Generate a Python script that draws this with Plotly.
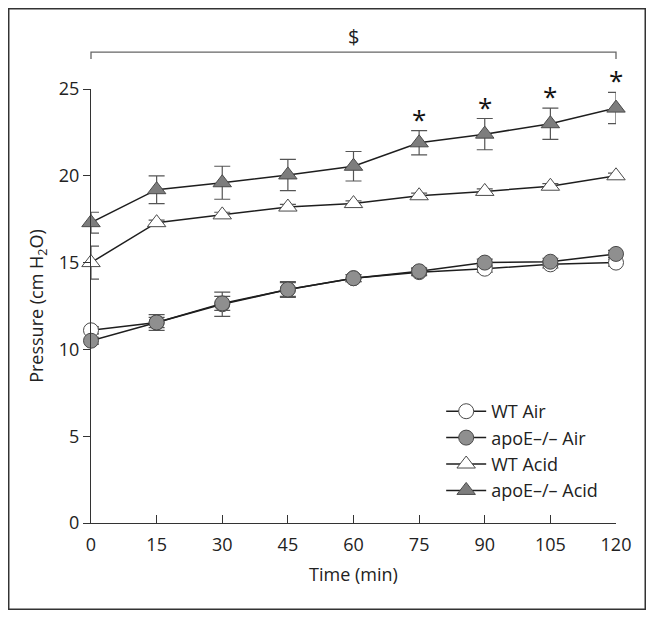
import plotly.graph_objects as go

time_min = [0, 15, 30, 45, 60, 75, 90, 105, 120]

wt_air = [11.1, 11.55, 12.6, 13.45, 14.1, 14.45, 14.65, 14.9, 15.0]
wt_air_err = [0.2, 0.45, 0.7, 0.45, 0.2, 0.2, 0.2, 0.2, 0.2]

apoe_air = [10.5, 11.55, 12.65, 13.45, 14.1, 14.5, 15.0, 15.05, 15.5]
apoe_air_err = [0.2, 0.3, 0.4, 0.4, 0.2, 0.2, 0.2, 0.2, 0.2]

wt_acid = [15.0, 17.3, 17.75, 18.2, 18.4, 18.85, 19.1, 19.4, 20.0]
wt_acid_err = [0.95, 0.15, 0.15, 0.15, 0.15, 0.15, 0.15, 0.15, 0.15]

apoe_acid = [17.3, 19.2, 19.6, 20.05, 20.55, 21.9, 22.4, 23.0, 23.9]
apoe_acid_err = [0.6, 0.8, 0.95, 0.9, 0.85, 0.7, 0.9, 0.9, 0.9]

star_times = [75, 90, 105, 120]

series_names = ["WT Air", "apoE\u2013/\u2013 Air", "WT Acid", "apoE\u2013/\u2013 Acid"]

FONT = "Open Sans"
LINE_COL = "#1e1e1e"
ERR_COL = "#555555"

fig = go.Figure()

def add(y, err, name, symbol, fill, size):
    fig.add_trace(go.Scatter(
        x=time_min, y=y, name=name, mode="lines+markers",
        line=dict(color=LINE_COL, width=1.5),
        marker=dict(symbol=symbol, size=size, color=fill,
                    line=dict(color="#4a4a4a", width=1)),
        error_y=dict(type="data", array=err, visible=True,
                     color=ERR_COL, thickness=1.2, width=8),
        cliponaxis=False,
    ))

add(wt_air, wt_air_err, series_names[0], "circle", "white", 15)
add(apoe_air, apoe_air_err, series_names[1], "circle", "#8f8f8f", 15)
add(wt_acid, wt_acid_err, series_names[2], "triangle-up", "white", 16)
add(apoe_acid, apoe_acid_err, series_names[3], "triangle-up", "#7d7d7d", 16)

# significance asterisks
for t in star_times:
    i = time_min.index(t)
    fig.add_annotation(x=t, y=apoe_acid[i] + apoe_acid_err[i], text="*",
                       showarrow=False, yanchor="middle", yshift=12,
                       font=dict(family=FONT, size=26, color="#111"))

# bracket with $
fig.add_shape(type="path", xref="paper", yref="paper",
              path="M 0,1.069 L 0,1.085 L 1,1.085 L 1,1.069",
              line=dict(color="#666", width=1.3))
fig.add_annotation(x=0.5, y=1.12, xref="paper", yref="paper", text="$",
                   showarrow=False, yanchor="middle",
                   font=dict(family=FONT, size=20, color="#222"))

# outer frame
fig.add_shape(type="rect", xref="paper", yref="paper",
              x0=-0.1567, x1=1.0557, y0=-0.1987, y1=1.1849,
              line=dict(color="#333", width=1.5))

fig.update_layout(
    width=638, height=602,
    margin=dict(l=83, r=30, t=81, b=87),
    paper_bgcolor="white", plot_bgcolor="white",
    font=dict(family=FONT, size=18, color="#222"),
    showlegend=True,
    legend=dict(x=0.667, y=0.2995, xanchor="left", yanchor="top",
                bgcolor="rgba(0,0,0,0)", font=dict(size=18),
                itemwidth=40, tracegroupgap=0),
    xaxis=dict(range=[0, 120], tickvals=time_min, ticks="inside",
               ticklen=8, tickcolor="#333", showline=True, linecolor="#333",
               linewidth=1.3, showgrid=False, zeroline=False,
               ticklabelstandoff=5, tickfont=dict(size=18),
               title=dict(text="Time (min)", standoff=13, font=dict(size=18))),
    yaxis=dict(range=[0, 25], tickvals=[0, 5, 10, 15, 20, 25], ticks="outside",
               ticklen=7, tickcolor="#333", showline=True, linecolor="#333",
               linewidth=1.3, showgrid=False, zeroline=False,
               ticklabelstandoff=0, tickfont=dict(size=18),
               title=dict(text="Pressure (cm H<sub>2</sub>O)", standoff=10,
                          font=dict(size=18))),
)

fig.write_html("out.html")
